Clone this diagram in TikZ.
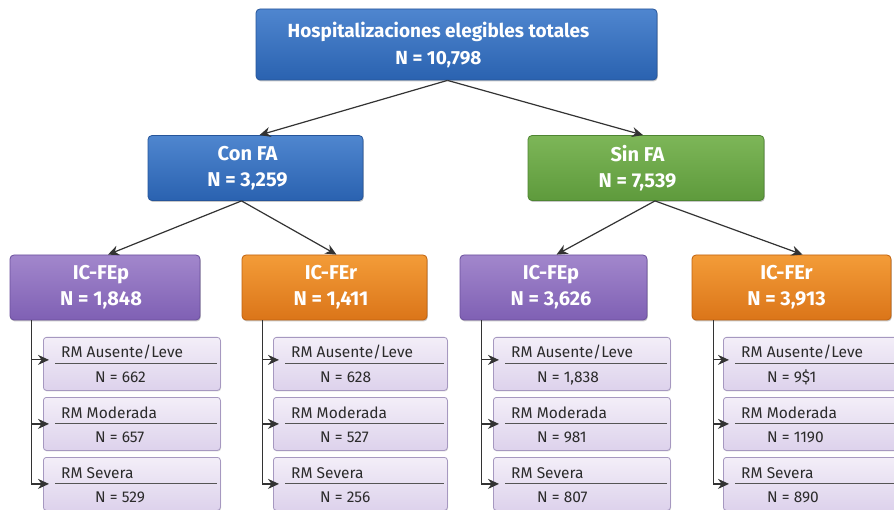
\documentclass[tikz,border=0pt]{standalone}
\usepackage{fontspec}
\setmainfont{Fira Sans}
\usetikzlibrary{shadows,arrows.meta,calc}
\definecolor{blueT}{HTML}{4F86CF}
\definecolor{blueB}{HTML}{2A62B0}
\definecolor{blueD}{HTML}{26559A}
\definecolor{greenT}{HTML}{7DB658}
\definecolor{greenB}{HTML}{5E9A3C}
\definecolor{greenD}{HTML}{4E8532}
\definecolor{purpT}{HTML}{A287CC}
\definecolor{purpB}{HTML}{7F60B4}
\definecolor{purpD}{HTML}{6A4F9C}
\definecolor{oranT}{HTML}{F39C38}
\definecolor{oranB}{HTML}{DB7519}
\definecolor{oranD}{HTML}{C0620E}
\definecolor{leafT}{HTML}{F3EEF8}
\definecolor{leafB}{HTML}{DDD2EC}
\definecolor{leafD}{HTML}{A698C0}
\definecolor{ink}{HTML}{2B2B2B}
\definecolor{arrowc}{HTML}{333333}
\newcommand\lsh[1]{\hspace*{#1pt}}
\tikzset{
  boxbase/.style={rectangle, rounded corners=4pt, line width=0.8pt, inner sep=0pt, align=center,
    drop shadow={shadow xshift=0.8pt, shadow yshift=-1.4pt, opacity=0.3, fill=black!70}},
  bluebox/.style={boxbase, draw=blueD, top color=blueT, bottom color=blueB, text=white},
  greenbox/.style={boxbase, draw=greenD, top color=greenT, bottom color=greenB, text=white},
  purpbox/.style={boxbase, draw=purpD, top color=purpT, bottom color=purpB, text=white},
  oranbox/.style={boxbase, draw=oranD, top color=oranT, bottom color=oranB, text=white},
  hfont/.style={font=\fontseries{sb}\selectfont\fontsize{20}{26}\selectfont},
  leafbox/.style={rectangle, rounded corners=3pt, line width=0.8pt, inner sep=0pt,
    draw=leafD, top color=leafT, bottom color=leafB, minimum height=53pt,
    drop shadow={shadow xshift=0.6pt, shadow yshift=-1pt, opacity=0.2, fill=black!70}},
  leaftxt/.style={inner sep=0pt, text=ink, font=\fontsize{15.5}{17}\selectfont},
  sepline/.style={draw=ink!80, line width=0.9pt},
  conn/.style={draw=arrowc, line width=1.2pt},
  arr/.style={conn, -{Stealth[length=11pt,width=10pt]}},
}
\newcommand\leafnode[7]{%
  \node[leafbox, minimum width=#4pt, anchor=north west] (#1) at (#2,#3) {};
  \node[leaftxt, anchor=base west] (#1t) at ($(#1.north west)+(18,21)$) {#5};
  \node[leaftxt, anchor=base west] (#1v) at ($(#1.north west)+(#7,45)$) {#6};
  \draw[sepline] ($(#1.north west)+(12,26)$) -- ($(#1.north east)+(-4,26)$);
}
\begin{document}
\begin{tikzpicture}[x=1pt,y=-1pt]
\useasboundingbox (0,0) rectangle (894,510);
\clip (0,0) rectangle (894,510);
\fill[white] (0,0) rectangle (894,510);

% level 0
\node[bluebox, font=\fontseries{sb}\selectfont\fontsize{19}{27}\selectfont, minimum width=401pt, minimum height=71pt] (top) at (456.5,44.5)
  {Hospitalizaciones elegibles totales\lsh{36}\\N = 10,798\lsh{36}};
% level 1
\node[bluebox, hfont, minimum width=215pt, minimum height=65pt] (con) at (255.5,168) {Con FA\lsh{16}\\N = 3,259\lsh{16}};
\node[greenbox, hfont, minimum width=236pt, minimum height=65pt] (sin) at (646,168) {Sin FA\lsh{17}\\N = 7,539\lsh{17}};
% level 2
\node[purpbox, hfont, minimum width=190pt, minimum height=65pt] (p1) at (105,287.5) {IC-FEp\lsh{8}\\N = 1,848\lsh{8}};
\node[oranbox, hfont, minimum width=185pt, minimum height=65pt] (r1) at (334.5,287.5) {IC-FEr\lsh{7}\\N = 1,411\lsh{7}};
\node[purpbox, hfont, minimum width=187pt, minimum height=65pt] (p2) at (553.5,287.5) {IC-FEp\lsh{5}\\N = 3,626\lsh{5}};
\node[oranbox, hfont, minimum width=199pt, minimum height=65pt] (r2) at (791.5,287.5) {IC-FEr\lsh{10}\\N = 3,913\lsh{10}};

% leaves
\leafnode{a1}{43}{337}{177}{RM Ausente/Leve}{N = 662}{52}
\leafnode{a2}{43}{397}{177}{RM Moderada}{N = 657}{52}
\leafnode{a3}{43}{457}{177}{RM Severa}{N = 529}{52}
\leafnode{b1}{273}{337}{174}{RM Ausente/Leve}{N = 628}{47}
\leafnode{b2}{273}{397}{174}{RM Moderada}{N = 527}{47}
\leafnode{b3}{273}{457}{174}{RM Severa}{N = 256}{47}
\leafnode{c1}{493}{337}{177}{RM Ausente/Leve}{N = 1,838}{44}
\leafnode{c2}{493}{397}{177}{RM Moderada}{N = 981}{44}
\leafnode{c3}{493}{457}{177}{RM Severa}{N = 807}{44}
\leafnode{d1}{723}{337}{177}{RM Ausente/Leve}{N = 9\$1}{44}
\leafnode{d2}{723}{397}{177}{RM Moderada}{N = 1190}{44}
\leafnode{d3}{723}{457}{177}{RM Severa}{N = 890}{44}

% tree connectors
\coordinate (t0) at ($(top.south)+(-9,0)$);
\draw[arr] (t0) -- ($(con.north)+(4,0)$);
\draw[arr] (t0) -- ($(sin.north)+(-3,0)$);
\coordinate (c0) at ($(con.south)+(-14,0)$);
\draw[arr] (c0) -- ($(p1.north)+(3,0)$);
\draw[arr] (c0) -- ($(r1.north)+(2,0)$);
\coordinate (s0) at ($(sin.south)+(9,0)$);
\draw[arr] (s0) -- ($(p2.north)+(3,0)$);
\draw[arr] (s0) -- ($(r2.north)+(11,0)$);

% side connectors
\coordinate (v1) at ($(p1.south west)+(22,0)$);
\coordinate (v2) at ($(r1.south west)+(21,0)$);
\coordinate (v3) at ($(p2.south west)+(22,0)$);
\coordinate (v4) at ($(r2.south west)+(22,0)$);
\foreach \v/\g in {v1/a, v2/b, v3/c, v4/d}{
  \draw[arr, shorten >=-6pt] (\v) |- ($(\g3.west)+(0,0)$);
  \draw[arr, shorten >=-6pt] (\v |- \g2.west) -- (\g2.west);
  \draw[arr, shorten >=-6pt] ($(\v |- \g1.west)+(0,-4)$) -- ($(\g1.west)+(0,-4)$);
}
\end{tikzpicture}
\end{document}
